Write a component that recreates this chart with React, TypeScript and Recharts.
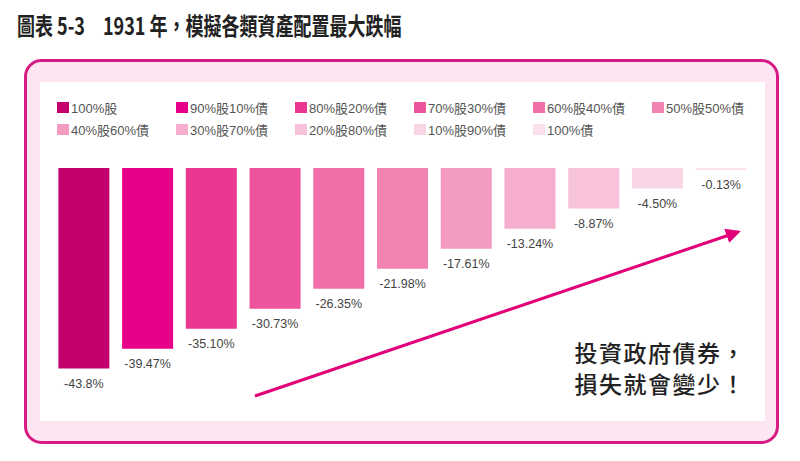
import React from "react";
import { Bar, BarChart, Cell, LabelList, XAxis, YAxis } from "recharts";

const allocations = [
  "100%股",
  "90%股10%債",
  "80%股20%債",
  "70%股30%債",
  "60%股40%債",
  "50%股50%債",
  "40%股60%債",
  "30%股70%債",
  "20%股80%債",
  "10%股90%債",
  "100%債",
];
const maxDrawdown = [-43.8, -39.47, -35.1, -30.73, -26.35, -21.98, -17.61, -13.24, -8.87, -4.5, -0.13];
const drawdownLabels = [
  "-43.8%",
  "-39.47%",
  "-35.10%",
  "-30.73%",
  "-26.35%",
  "-21.98%",
  "-17.61%",
  "-13.24%",
  "-8.87%",
  "-4.50%",
  "-0.13%",
];
const barColors = [
  "#c4006e",
  "#e8008a",
  "#ea3792",
  "#ec559e",
  "#f06fa8",
  "#f283b3",
  "#f39bc0",
  "#f5aecd",
  "#f7c2da",
  "#f9d5e5",
  "#fbe1ed",
];

const data = allocations.map((name, i) => ({ name, value: maxDrawdown[i], label: drawdownLabels[i] }));

const latin = "'Liberation Sans', 'Noto Sans CJK TC', sans-serif";
const cjk = "'Noto Sans CJK TC', 'Liberation Sans', sans-serif";

function DrawdownLabel(props: any) {
  const { x, y, width, height, index } = props;
  const bottom = Math.max(Number(y), Number(y) + Number(height));
  return (
    <text
      x={Number(x) + Number(width) / 2}
      y={bottom + 16}
      textAnchor="middle"
      dominantBaseline="middle"
      fontSize={12.5}
      fontFamily={latin}
      fill="#444"
    >
      {drawdownLabels[index]}
    </text>
  );
}

function LegendGrid() {
  return (
    <div
      style={{
        position: "absolute",
        left: 57,
        top: 100,
        display: "grid",
        gridTemplateColumns: "repeat(6, 119px)",
        rowGap: 8,
        fontFamily: latin,
        fontSize: 13,
        color: "#555",
      }}
    >
      {allocations.map((name, i) => (
        <div key={name} style={{ display: "flex", alignItems: "center", height: 14 }}>
          <span style={{ width: 12, height: 11, background: barColors[i], marginRight: 2, display: "inline-block" }} />
          <span>{name}</span>
        </div>
      ))}
    </div>
  );
}

export default function App() {
  return (
    <div style={{ position: "absolute", left: 0, top: 0, width: 800, height: 461, background: "#fff" }}>
      <div
        style={{
          position: "absolute",
          left: 17,
          top: 9,
          fontFamily: cjk,
          fontWeight: 700,
          fontSize: 24,
          color: "#222",
          whiteSpace: "pre",
          transform: "scaleX(0.75)",
          transformOrigin: "left top",
          lineHeight: "32px",
        }}
      >
        {"圖表 5-3　1931 年，模擬各類資產配置最大跌幅"}
      </div>

      <svg width={800} height={461} style={{ position: "absolute", left: 0, top: 0 }}>
        <rect x={25.5} y={60.5} width={752} height={382} rx={16} fill="#fde6f1" stroke="#d81b84" strokeWidth={3} />
        <rect x={40} y={82} width={725} height={339} fill="#ffffff" />
      </svg>

      <LegendGrid />

      <div style={{ position: "absolute", left: 0, top: 0 }}>
        <BarChart
          width={800}
          height={461}
          data={data}
          margin={{ top: 168, right: 47, bottom: 64, left: 52 }}
          barCategoryGap="10%"
        >
          <XAxis dataKey="name" hide />
          <YAxis domain={[-50, 0]} hide />
          <Bar dataKey="value" minPointSize={2} isAnimationActive={false}>
            {data.map((d, i) => (
              <Cell key={d.name} fill={barColors[i]} />
            ))}
            <LabelList dataKey="label" content={DrawdownLabel} />
          </Bar>
        </BarChart>
      </div>

      <svg width={800} height={461} style={{ position: "absolute", left: 0, top: 0, pointerEvents: "none" }}>
        <defs>
          <marker id="head" viewBox="0 0 10 10" refX={8} refY={5} markerWidth={5} markerHeight={5} orient="auto">
            <path d="M0,0 L10,5 L0,10 z" fill="#e2007a" />
          </marker>
        </defs>
        <line x1={255} y1={396} x2={738} y2={232} stroke="#e2007a" strokeWidth={3} markerEnd="url(#head)" />
        <text x={746} y={356} textAnchor="end" dominantBaseline="middle" fontFamily={cjk} fontWeight={500} fontSize={23} fill="#222" letterSpacing={1.5}>
          投資政府債券，
        </text>
        <text x={746} y={387} textAnchor="end" dominantBaseline="middle" fontFamily={cjk} fontWeight={500} fontSize={23} fill="#222" letterSpacing={1.5}>
          損失就會變少！
        </text>
      </svg>
    </div>
  );
}
